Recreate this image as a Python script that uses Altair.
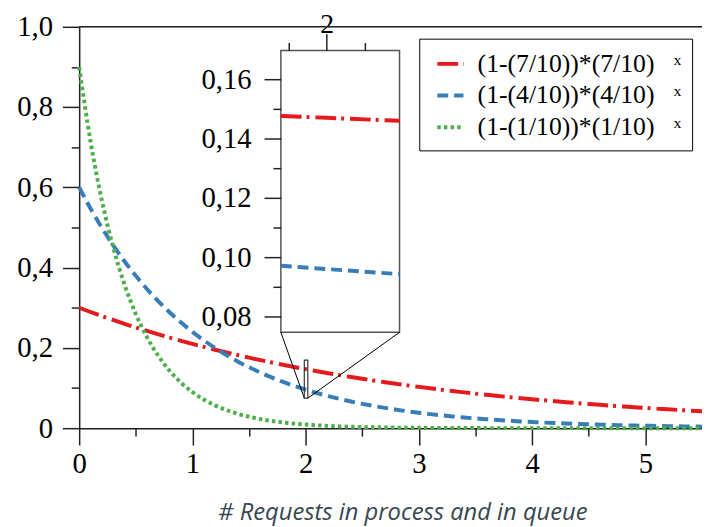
import altair as alt
import pandas as pd

# ---------------- data ----------------
x_vals = [0.0, 0.1, 0.2, 0.3, 0.4, 0.5, 0.6, 0.7, 0.8, 0.9,
          1.0, 1.1, 1.2, 1.3, 1.4, 1.5, 1.6, 1.7, 1.8, 1.9,
          2.0, 2.1, 2.2, 2.3, 2.4, 2.5, 2.6, 2.7, 2.8, 2.9,
          3.0, 3.1, 3.2, 3.3, 3.4, 3.5, 3.6, 3.7, 3.8, 3.9,
          4.0, 4.1, 4.2, 4.3, 4.4, 4.5, 4.6, 4.7, 4.8, 4.9,
          5.0, 5.1, 5.2, 5.3, 5.4, 5.5]

red_vals = [0.3000, 0.2895, 0.2793, 0.2696, 0.2601, 0.2510, 0.2422, 0.2337, 0.2255, 0.2176,
            0.2100, 0.2026, 0.1955, 0.1887, 0.1821, 0.1757, 0.1695, 0.1636, 0.1579, 0.1523,
            0.1470, 0.1419, 0.1369, 0.1321, 0.1275, 0.1230, 0.1187, 0.1145, 0.1105, 0.1066,
            0.1029, 0.0993, 0.0958, 0.0925, 0.0892, 0.0861, 0.0831, 0.0802, 0.0774, 0.0746,
            0.0720, 0.0695, 0.0671, 0.0647, 0.0625, 0.0603, 0.0582, 0.0561, 0.0542, 0.0523,
            0.0504, 0.0487, 0.0470, 0.0453, 0.0437, 0.0422]

blue_vals = [0.6000, 0.5475, 0.4995, 0.4558, 0.4159, 0.3795, 0.3463, 0.3159, 0.2883, 0.2630,
             0.2400, 0.2190, 0.1998, 0.1823, 0.1664, 0.1518, 0.1385, 0.1264, 0.1153, 0.1052,
             0.0960, 0.0876, 0.0799, 0.0729, 0.0665, 0.0607, 0.0554, 0.0506, 0.0461, 0.0421,
             0.0384, 0.0350, 0.0320, 0.0292, 0.0266, 0.0243, 0.0222, 0.0202, 0.0185, 0.0168,
             0.0154, 0.0140, 0.0128, 0.0117, 0.0107, 0.0097, 0.0089, 0.0081, 0.0074, 0.0067,
             0.0061, 0.0056, 0.0051, 0.0047, 0.0043, 0.0039]

green_vals = [0.9000, 0.7149, 0.5679, 0.4511, 0.3583, 0.2846, 0.2261, 0.1796, 0.1426, 0.1133,
              0.0900, 0.0715, 0.0568, 0.0451, 0.0358, 0.0285, 0.0226, 0.0180, 0.0143, 0.0113,
              0.0090, 0.0071, 0.0057, 0.0045, 0.0036, 0.0028, 0.0023, 0.0018, 0.0014, 0.0011,
              0.0009, 0.0007, 0.0006, 0.0005, 0.0004, 0.0003, 0.0002, 0.0002, 0.0001, 0.0001,
              0.0001, 0.0001, 0.0001, 0.0001, 0.0001, 0.0000, 0.0000, 0.0000, 0.0000, 0.0000,
              0.0000, 0.0000, 0.0000, 0.0000, 0.0000, 0.0000]

series_names = ["(1-(7/10))*(7/10)", "(1-(4/10))*(4/10)", "(1-(1/10))*(1/10)"]

# inset (zoom around x = 2)
inset_x = [1.988, 2.0, 2.019]
inset_red = [0.1476, 0.1470, 0.1460]
inset_blue = [0.0971, 0.0960, 0.0943]

main_x_major = [0, 1, 2, 3, 4, 5]
main_x_minor = [0.5, 1.5, 2.5, 3.5, 4.5]
main_y_major = [0, 0.2, 0.4, 0.6, 0.8, 1.0]
main_y_minor = [0.1, 0.3, 0.5, 0.7, 0.9]
inset_x_major = [2.0]
inset_x_minor = [1.99, 2.01]
inset_y_major = [0.08, 0.10, 0.12, 0.14, 0.16]
inset_y_minor = [0.09, 0.11, 0.13, 0.15]

# ---------------- layout / style ----------------
W, H = 630, 406
XDOM = [0, 5.5]
YDOM = [0, 1.0]
ZOOM_X = [1.988, 2.019]
ZOOM_Y = [0.0747, 0.1697]
INSET_X = [1.781, 2.829]   # inset box placement, in main data coordinates
INSET_Y = [0.239, 0.941]

colors = ["#e41a1c", "#377eb8", "#4daf4a"]
dashes = [[21, 5, 3, 6], [11, 6], [3.5, 3.2]]
SERIF = "'Liberation Serif', 'Times New Roman', Times, serif"
FS = 29
AX = "#222"


def px(v):
    return (v - XDOM[0]) / (XDOM[1] - XDOM[0]) * W


def py(v):
    return H - (v - YDOM[0]) / (YDOM[1] - YDOM[0]) * H


inset_xrange = [px(INSET_X[0]), px(INSET_X[1])]
inset_yrange = [py(INSET_Y[0]), py(INSET_Y[1])]

# ---------------- tables ----------------
rows = []
for name, vals in zip(series_names, [red_vals, blue_vals, green_vals]):
    for xv, yv in zip(x_vals, vals):
        rows.append({"x": xv, "y": yv, "series": name})
lines_df = pd.DataFrame(rows)

top_df = pd.DataFrame({"y": [YDOM[1]]})
box_df = pd.DataFrame({"x": [INSET_X[0]], "x2": [INSET_X[1]], "y": [INSET_Y[0]], "y2": [INSET_Y[1]]})
zoom_df = pd.DataFrame({"x": [ZOOM_X[0]], "x2": [ZOOM_X[1]], "y": [ZOOM_Y[0]], "y2": [ZOOM_Y[1]]})
conn_df = pd.DataFrame({"x": [INSET_X[0], INSET_X[1]], "y": [INSET_Y[0], INSET_Y[0]],
                        "x2": [ZOOM_X[0], ZOOM_X[1]], "y2": [ZOOM_Y[0], ZOOM_Y[0]]})
inset_red_df = pd.DataFrame({"x": inset_x, "y": inset_red})
inset_blue_df = pd.DataFrame({"x": inset_x, "y": inset_blue})

# ---------------- scales ----------------
main_xs = alt.Scale(domain=XDOM, nice=False, zero=False)
main_ys = alt.Scale(domain=YDOM, nice=False, zero=False)
inset_xs = alt.Scale(domain=ZOOM_X, range=inset_xrange, nice=False, zero=False)
inset_ys = alt.Scale(domain=ZOOM_Y, range=inset_yrange, nice=False, zero=False)

# ---------------- axes ----------------
main_xaxis = alt.Axis(
    orient="bottom", values=main_x_major, title="# Requests in process and in queue",
    labelExpr="format(datum.value, 'd')", tickSize=17, labelFlush=False,
    labelPadding=5, labelFont=SERIF, labelFontSize=FS, labelColor="black",
    domainColor=AX, domainWidth=1.5, tickColor=AX, tickWidth=1.5,
    titleFont="Open Sans", titleFontStyle="italic", titleFontWeight="normal",
    titleFontSize=24, titleColor="#37474f", titlePadding=22,
    titleX=327, titleAlign="center", grid=False)
main_xaxis_minor = alt.Axis(
    orient="bottom", values=main_x_minor, title=None, labels=False, tickSize=8,
    domain=False, tickColor=AX, tickWidth=1.5, grid=False)
main_yaxis = alt.Axis(
    orient="left", values=main_y_major, title=None, labelFlush=False,
    labelExpr="datum.value === 0 ? '0' : replace(format(datum.value, '.1f'), '.', ',')",
    tickSize=17, labelPadding=10, labelFont=SERIF, labelFontSize=FS, labelColor="black",
    domainColor=AX, domainWidth=1.5, tickColor=AX, tickWidth=1.5, grid=False)
main_yaxis_minor = alt.Axis(
    orient="left", values=main_y_minor, title=None, labels=False, tickSize=8,
    domain=False, tickColor=AX, tickWidth=1.5, grid=False)

inset_xaxis = alt.Axis(
    orient="top", offset=-inset_yrange[1], values=inset_x_major, title=None,
    labelExpr="format(datum.value, 'd')", tickSize=17, labelFlush=False,
    labelPadding=-5, labelFont=SERIF, labelFontSize=28, labelColor="black",
    domain=False, tickColor=AX, tickWidth=1.5, grid=False, zindex=1)
inset_xaxis_minor = alt.Axis(
    orient="top", offset=-inset_yrange[1], values=inset_x_minor, title=None,
    labels=False, tickSize=8, domain=False, tickColor=AX, tickWidth=1.5, grid=False, zindex=1)
inset_yaxis = alt.Axis(
    orient="left", offset=-inset_xrange[0], values=inset_y_major, title=None,
    labelExpr="replace(format(datum.value, '.2f'), '.', ',')", tickSize=17, labelFlush=False,
    labelPadding=13, labelFont=SERIF, labelFontSize=FS, labelColor="black",
    domain=False, tickColor=AX, tickWidth=1.5, grid=False, zindex=1)
inset_yaxis_minor = alt.Axis(
    orient="left", offset=-inset_xrange[0], values=inset_y_minor, title=None,
    labels=False, tickSize=8, domain=False, tickColor=AX, tickWidth=1.5, grid=False, zindex=1)

mx = alt.X("x:Q", scale=main_xs, axis=main_xaxis)
my = alt.Y("y:Q", scale=main_ys, axis=main_yaxis)

legend = alt.Legend(
    title=None, orient="none", legendX=344, legendY=12,
    strokeColor="black", fillColor="white", padding=10,
    labelFont=SERIF, labelFontSize=26, labelColor="black", labelLimit=0,
    symbolType="stroke", symbolStrokeWidth=4, symbolSize=700,
    labelOffset=12, rowPadding=3, symbolOffset=6,
    labelExpr="datum.label + '\u00a0\u00a0\u00a0\u02e3\u00a0\u00a0'")

lines = alt.Chart(lines_df).mark_line(strokeWidth=4, interpolate="monotone").encode(
    x=mx, y=my,
    color=alt.Color("series:N", scale=alt.Scale(domain=series_names, range=colors), legend=legend),
    strokeDash=alt.StrokeDash("series:N", scale=alt.Scale(domain=series_names, range=dashes), legend=legend),
)

top_rule = alt.Chart(top_df).mark_rule(color=AX, strokeWidth=1.5).encode(y=my)

box = alt.Chart(box_df).mark_rect(fill="white", stroke="#555", strokeWidth=1.5).encode(
    x=mx, x2="x2:Q", y=my, y2="y2:Q")
connectors = alt.Chart(conn_df).mark_rule(color="black", strokeWidth=1).encode(
    x=mx, x2="x2:Q", y=my, y2="y2:Q")
zoom_rect = alt.Chart(zoom_df).mark_rect(fillOpacity=0, stroke="#333", strokeWidth=1.2).encode(
    x=mx, x2="x2:Q", y=my, y2="y2:Q")

main = alt.layer(lines, top_rule, box, connectors, zoom_rect)

main_minor = alt.Chart(box_df).mark_point(opacity=0).encode(
    x=alt.X("x:Q", scale=main_xs, axis=main_xaxis_minor),
    y=alt.Y("y:Q", scale=main_ys, axis=main_yaxis_minor))

ix = alt.X("x:Q", scale=inset_xs, axis=inset_xaxis)
iy = alt.Y("y:Q", scale=inset_ys, axis=inset_yaxis)
inset_r = alt.Chart(inset_red_df).mark_line(strokeWidth=4, color=colors[0], strokeDash=dashes[0]).encode(x=ix, y=iy)
inset_b = alt.Chart(inset_blue_df).mark_line(strokeWidth=4, color=colors[1], strokeDash=dashes[1]).encode(x=ix, y=iy)
inset = alt.layer(inset_r, inset_b)

inset_minor = alt.Chart(inset_red_df).mark_point(opacity=0).encode(
    x=alt.X("x:Q", scale=inset_xs, axis=inset_xaxis_minor),
    y=alt.Y("y:Q", scale=inset_ys, axis=inset_yaxis_minor))

chart = alt.layer(main, main_minor, inset, inset_minor).resolve_scale(
    x="independent", y="independent").properties(
    width=W, height=H,
    autosize=alt.AutoSizeParams(type="none"),
    padding={"left": 72, "top": 16, "right": 0, "bottom": 103},
).configure_view(stroke=None).configure(background="white")

chart.save("out.html", embed_options={"renderer": "svg", "actions": False})
